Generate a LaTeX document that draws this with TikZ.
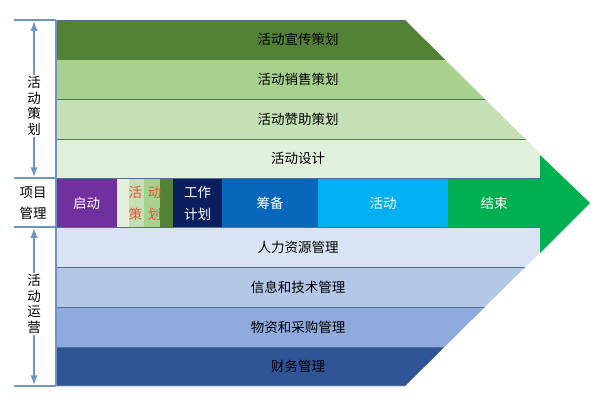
\documentclass[tikz,border=0pt]{standalone}
\usepackage{fontspec}
\setmainfont{Noto Sans CJK SC}
\usetikzlibrary{arrows.meta,positioning}

\begin{document}
\begin{tikzpicture}[x=1pt, y=-1pt, >=Latex, font=\fontsize{13.5}{16}\selectfont]
\definecolor{planA}{HTML}{538135}
\definecolor{planB}{HTML}{A9D18E}
\definecolor{planC}{HTML}{C5E0B4}
\definecolor{planD}{HTML}{E2EFDA}
\definecolor{runA}{HTML}{DAE3F3}
\definecolor{runB}{HTML}{B4C7E7}
\definecolor{runC}{HTML}{8FAADC}
\definecolor{runD}{HTML}{2F5597}
\definecolor{purple}{HTML}{7030A0}
\definecolor{navy}{HTML}{0B1F5E}
\definecolor{midblue}{HTML}{0A68BC}
\definecolor{skyblue}{HTML}{00B0F0}
\definecolor{endgreen}{HTML}{00B050}
\definecolor{orangered}{HTML}{E5553A}
\definecolor{sepline}{HTML}{52708F}
\definecolor{annot}{HTML}{6C95C6}
\tikzset{
  cell/.style={minimum height=48pt, inner sep=0pt, text=white, align=center, font=\fontsize{13.5}{22}\selectfont},
  band/.style={text=black},
  annotline/.style={annot, line width=1.5pt},
}
\useasboundingbox (0,0) rectangle (601,408);
\fill[white] (0,0) rectangle (601,408);
% the arrow-shaped body
\begin{scope}
\clip (56,20) -- (405,20) -- (590,203) -- (405,386) -- (56,386) -- cycle;
\foreach \y/\c in {20/planA,59/planB,99/planC,139/planD}{\fill[\c] (56,\y) rectangle (540,\y+40);}
\foreach \y/\c in {227/runA,267/runB,307/runC,347/runD}{\fill[\c] (56,\y) rectangle (540,\y+40);}
\foreach \y in {59,99,139,178,227,267,307,347}{\draw[sepline, line width=0.9pt] (56,\y)--(540,\y);}
\draw[sepline, line width=1.2pt] (56,20)--(420,20);
\draw[sepline, line width=1.2pt] (56,386)--(420,386);
\end{scope}
\fill[endgreen] (540,155) -- (590,203) -- (540,253) -- cycle;
% middle row
\node[cell, fill=purple, minimum width=61pt] (qidong) at (86.5,203) {启动};
\begin{scope}
\fill[planD] (117,179) rectangle (129,227);
\fill[planC] (129,179) rectangle (144,227);
\fill[planB] (144,179) rectangle (160,227);
\fill[planA] (160,179) rectangle (173,227);
\end{scope}
\node[cell, minimum width=56pt, text=orangered] (cehua) at (145,203) {活\hspace{6pt}动\\策\hspace{6pt}划};
\node[cell, fill=navy, minimum width=49pt] (jihua) at (197.5,203) {工作\\计划};
\node[cell, fill=midblue, minimum width=96pt] (choubei) at (270,203) {筹备};
\node[cell, fill=skyblue, minimum width=130pt] (huodong) at (383,203) {活动};
\node[cell, fill=endgreen, minimum width=92pt] (jieshu) at (494,203) {结束};
% band texts
\node[band] (xuanchuan) at (298,39.5) {活动宣传策划};
\node[band] (xiaoshou) at (298,79) {活动销售策划};
\node[band] (zanzhu) at (298,119) {活动赞助策划};
\node[band] (sheji) at (298,158.5) {活动设计};
\node[band] (renli) at (298,247) {人力资源管理};
\node[band] (xinxi) at (298,287) {信息和技术管理};
\node[band] (wuzi) at (298,327) {物资和采购管理};
\node[band] (caiwu) at (298,366.5) {财务管理};
% left side
\draw[annot, line width=1.4pt] (56,20)--(56,386);
\foreach \y in {20,178,227,386}{\draw[annotline] (14,\y)--(56,\y);}
\coordinate (planTop) at (34,21);
\coordinate (planBot) at (34,177);
\coordinate (runTop) at (34,228);
\coordinate (runBot) at (34,385);
\node[align=center, fill=white, inner sep=1pt, font=\fontsize{13.5}{15.5}\selectfont] (planLbl) at (34,106) {活\\动\\策\\划};
\node[align=center, fill=white, inner sep=1pt, font=\fontsize{13.5}{15.5}\selectfont] (runLbl) at (34,304) {活\\动\\运\\营};
\draw[->, annotline] (planLbl) -- (planTop);
\draw[->, annotline] (planLbl) -- (planBot);
\draw[->, annotline] (runLbl) -- (runTop);
\draw[->, annotline] (runLbl) -- (runBot);
\node[align=center, font=\fontsize{13.5}{21}\selectfont] (xiangmu) at (33,203) {项目\\管理};
\end{tikzpicture}
\end{document}
